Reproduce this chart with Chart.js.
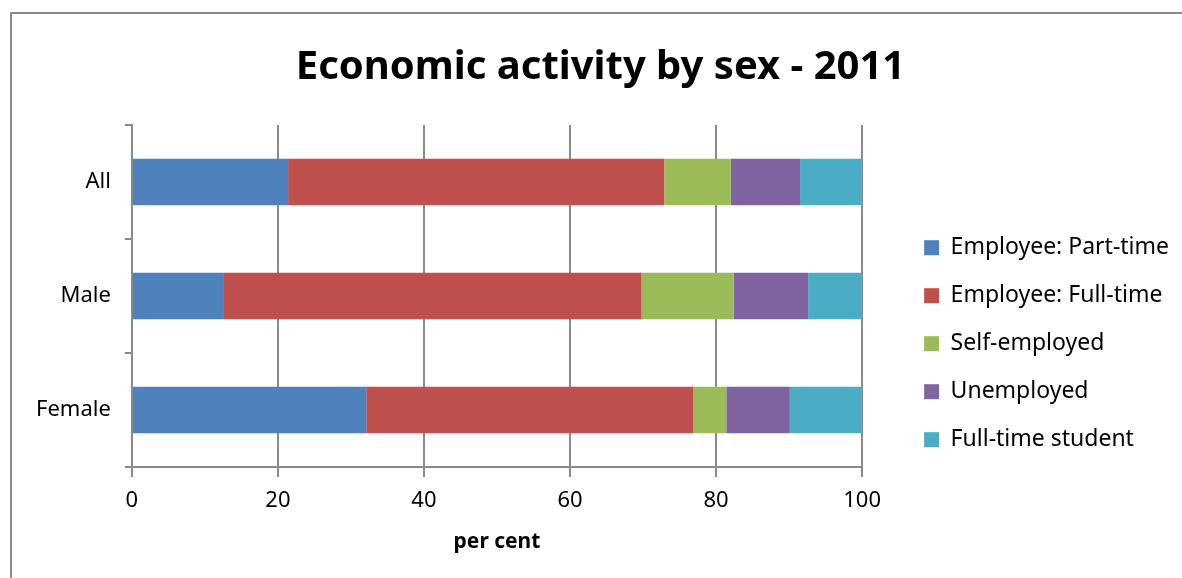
<!DOCTYPE html>
<html>
<head>
<meta charset="utf-8">
<script src="https://cdn.jsdelivr.net/npm/chart.js@4.4.0/dist/chart.umd.min.js"></script>
<style>
  html, body { margin: 0; padding: 0; background: #fff; overflow: hidden; }
  #frame { position: absolute; left: 10px; top: 12px; width: 1300px; height: 700px;
           border-left: 2px solid #8a8a8a; border-top: 2px solid #8a8a8a; }
  #wrap { position: absolute; left: 0; top: 0; width: 1182px; height: 578px; }
</style>
</head>
<body>
<div id="frame"></div>
<div id="wrap"><canvas id="chartActivity"></canvas></div>
<script>
// Economic activity by sex - 2011 (per cent)
const groups = ['All', 'Male', 'Female'];
const seriesNames = ['Employee: Part-time', 'Employee: Full-time', 'Self-employed', 'Unemployed', 'Full-time student'];
const partTime = [21.4, 12.5, 32.1];
const fullTime = [51.5, 57.3, 44.8];
const selfEmployed = [9.1, 12.6, 4.5];
const unemployed = [9.5, 10.2, 8.7];
const student = [8.5, 7.4, 9.9];
const xTicks = [0, 20, 40, 60, 80, 100];

const colours = ['#4f81bd', '#c0504d', '#9bbb59', '#8064a2', '#4bacc6'];
const seriesData = [partTime, fullTime, selfEmployed, unemployed, student];
const FONT = "'Noto Sans', sans-serif";
const GRID = '#8a8a8a';

const ctx = document.getElementById('chartActivity').getContext('2d');
new Chart(ctx, {
    type: 'bar',
    data: {
        labels: groups,
        datasets: seriesNames.map((name, i) => ({
            label: name,
            data: seriesData[i],
            backgroundColor: colours[i],
            borderWidth: 0,
            categoryPercentage: 1,
            barPercentage: 0.41
        }))
    },
    options: {
        indexAxis: 'y',
        responsive: true,
        maintainAspectRatio: false,
        animation: false,
        layout: { padding: { top: 20, left: 22, right: 3, bottom: 21 } },
        plugins: {
            title: {
                display: true,
                text: 'Economic activity by sex - 2011',
                color: '#000',
                font: { family: FONT, size: 40, weight: 'bold' },
                padding: { top: 23.6, bottom: 33.4 }
            },
            legend: {
                position: 'right',
                maxWidth: 400,
                title: { display: true, text: '', padding: { top: 96, bottom: 0 } },
                labels: {
                    color: '#000',
                    font: { family: FONT, size: 23 },
                    boxWidth: 15, boxHeight: 15,
                    padding: 25
                }
            },
            tooltip: { enabled: false }
        },
        scales: {
            x: {
                stacked: true,
                min: 0, max: 100,
                afterBuildTicks: s => { s.ticks = xTicks.map(v => ({ value: v })); },
                grid: { color: GRID, lineWidth: 2, tickLength: 10 },
                border: { color: GRID, width: 2 },
                ticks: { color: '#000', font: { family: FONT, size: 22 }, padding: 11 },
                title: { display: true, text: 'per cent', color: '#000',
                         font: { family: FONT, size: 21, weight: 'bold' }, padding: { top: 4.2, bottom: 2.2 } }
            },
            y: {
                stacked: true,
                offset: true,
                grid: { offset: true, drawOnChartArea: false, color: GRID, lineWidth: 2, tickLength: 7 },
                border: { color: GRID, width: 2 },
                ticks: { color: '#000', font: { family: FONT, size: 22 }, padding: 14 }
            },
            gap: {
                type: 'linear',
                position: 'right',
                display: true,
                grid: { display: false },
                border: { display: false },
                ticks: { display: false },
                afterFit: s => { s.width = 37; }
            }
        }
    }
});
</script>
</body>
</html>
